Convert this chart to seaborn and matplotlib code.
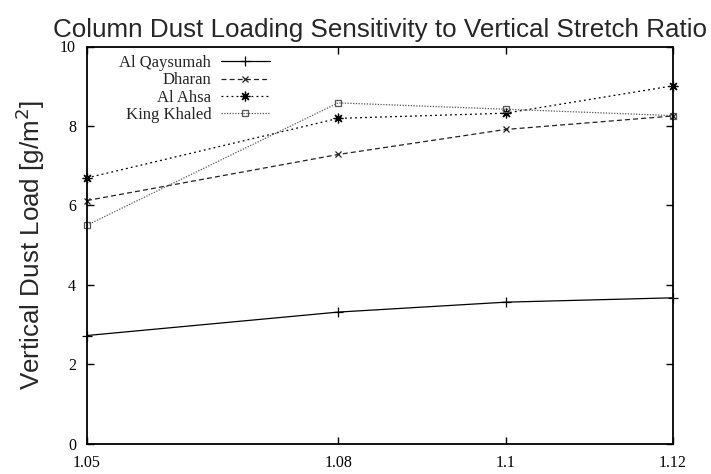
import matplotlib
matplotlib.use("Agg")
import matplotlib.pyplot as plt
import seaborn as sns
import pandas as pd

# ---- data ----
ratios = [1.05, 1.08, 1.10, 1.12]
al_qaysumah = [2.72, 3.31, 3.56, 3.67]
dharan = [6.12, 7.28, 7.91, 8.25]
al_ahsa = [6.69, 8.19, 8.32, 9.01]
king_khaled = [5.50, 8.58, 8.42, 8.26]
series_names = ["Al Qaysumah", "Dharan", "Al Ahsa", "King Khaled"]
x_ticks = [1.05, 1.08, 1.10, 1.12]
x_tick_labels = ["1.05", "1.08", "1.1", "1.12"]
y_ticks = [0, 2, 4, 6, 8, 10]
y_tick_labels = ["0", "2", "4", "6", "8", "10"]

sns.set_style("ticks")
plt.rcParams["font.family"] = ["Liberation Serif", "DejaVu Serif"]

fig = plt.figure(figsize=(7.11, 4.74), dpi=100)
ax = fig.add_axes([87 / 711, 1 - 443.5 / 474, (673 - 87) / 711, (443.5 - 46.5) / 474])

styles = [
    dict(color="black", marker="+", linestyle="-", markersize=7),
    dict(color="#222222", marker="x", linestyle=(0, (4, 2.5)), markersize=5),
    dict(color="black", marker=(8, 2, 0), linestyle=(0, (1.5, 2.5)), markersize=7),
    dict(color="#555555", marker="s", linestyle=(0, (1, 1.2)), markersize=5),
]
all_vals = [al_qaysumah, dharan, al_ahsa, king_khaled]

for name, vals, st in zip(series_names, all_vals, styles):
    df = pd.DataFrame({"ratio": ratios, "load": vals})
    sns.lineplot(data=df, x="ratio", y="load", ax=ax, label=name,
                 color=st["color"], marker=st["marker"], linestyle=st["linestyle"],
                 markersize=st["markersize"], markeredgecolor=st["color"],
                 markerfacecolor="none", markeredgewidth=0.9, linewidth=0.9,
                 clip_on=False)

ax.set_xlim(1.05, 1.12)
ax.set_ylim(0, 10)
ax.set_xticks(x_ticks)
ax.set_xticklabels(x_tick_labels)
ax.set_yticks(y_ticks)
ax.set_yticklabels(y_tick_labels)
ax.tick_params(direction="in", length=5, width=1, top=True, right=True,
               labelsize=11.5, pad=8, colors="black")
for sp in ax.spines.values():
    sp.set_visible(True)
    sp.set_linewidth(1.3)
    sp.set_color("black")

ax.set_xlabel("")
ax.set_ylabel("Vertical Dust Load [g/m$^2$]", fontsize=18.7,
              family=["Liberation Sans", "DejaVu Sans"])
ax.yaxis.set_label_coords(-0.068, 0.5)
ax.set_title("Column Dust Loading Sensitivity to Vertical Stretch Ratio",
             fontsize=18.7, family=["Liberation Sans", "DejaVu Sans"], pad=7)

leg = ax.legend(loc="upper left", bbox_to_anchor=(0.044, 0.995), frameon=False,
                markerfirst=False, fontsize=12, handlelength=2.9,
                handletextpad=0.6, labelspacing=0.08, borderaxespad=0)

fig.savefig("out.png", dpi=100)
